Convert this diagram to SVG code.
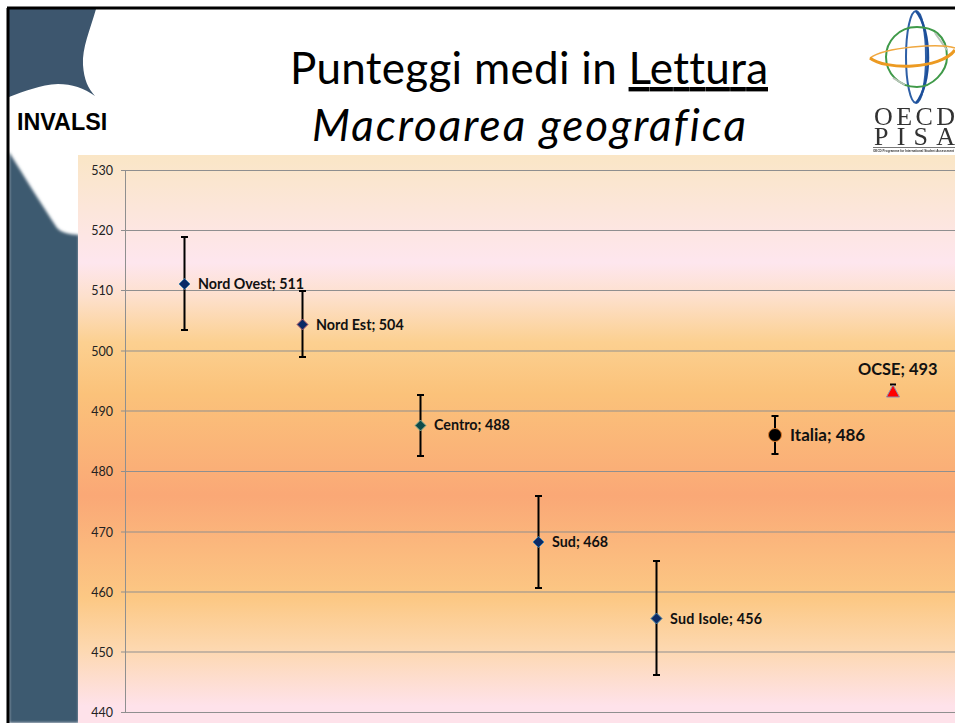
<svg xmlns="http://www.w3.org/2000/svg" width="955" height="723" viewBox="0 0 955 723">
<style>
.t{font-family:Lato,"Open Sans",sans-serif;fill:#000;font-variant-ligatures:none}
.ax{font-family:Lato,"Open Sans",sans-serif;font-size:12.5px;fill:#222;text-anchor:end}
.lb{font-family:Lato,"Open Sans",sans-serif;font-size:14.300px;font-weight:700;fill:#111}
.lg{font-family:Lato,"Open Sans",sans-serif;font-size:17px;font-weight:700;fill:#111}
.g{stroke:#8f8f8f;stroke-width:1;fill:none}
.e{stroke:#000;stroke-width:2;fill:none}
.d{fill:#0b2a66;stroke:#3f7fa8;stroke-width:1}
.s{font-family:"Liberation Serif",serif;font-size:26px;fill:#333}
</style>
<defs>
<linearGradient id="bg" x1="0" y1="155" x2="0" y2="723" gradientUnits="userSpaceOnUse">
<stop offset="0" stop-color="#fae6c6"/><stop offset="0.19" stop-color="#fee6ee"/><stop offset="0.25" stop-color="#fde0cc"/><stop offset="0.33" stop-color="#fcd090"/><stop offset="0.42" stop-color="#fbc27a"/><stop offset="0.6" stop-color="#faa876"/><stop offset="0.78" stop-color="#fcc884"/><stop offset="0.87" stop-color="#fdd8b0"/><stop offset="0.97" stop-color="#fee2ea"/><stop offset="1" stop-color="#fee2ea"/>
</linearGradient>
<filter id="b1" x="-10%" y="-10%" width="120%" height="120%"><feGaussianBlur stdDeviation="1.500"/></filter>
<filter id="b2" x="-10%" y="-10%" width="120%" height="120%"><feGaussianBlur stdDeviation="0.500"/></filter>
</defs>
<rect width="955" height="723" fill="#fff"/>
<g id="decor">
<path d="M9 9H96C90 30 82 48 83 65C84 80 88 88 95 96C84 88 72 84 58 84C40 85 25 91 9 97Z" fill="#3d566e"/>
<path d="M9 152C25 178 42 205 57 228Q62 234 79 235V723H9Z" fill="#3e5a70" filter="url(#b1)"/>
<path d="M7 8H955M8 8V723" fill="none" stroke="#000" stroke-width="3"/>
</g>
<g id="logo" fill="none" filter="url(#b2)">
<ellipse cx="916" cy="57" rx="10" ry="46" stroke="#2d5fa6" stroke-width="2"/>
<path d="M916 11C932 30 932 85 916 103" stroke="#1f4f9a" stroke-width="2.500"/>
<path d="M947 57C947 34 932 27 917 27C898 27 886 42 886 57" stroke="#3f9a49" stroke-width="2"/>
<path d="M886 57C886 72 898 87 917 87C932 87 947 72 947 57" stroke="#3f9a49" stroke-width="2"/>
<path d="M935 33L947 50M893 78L905 85" stroke="#b8c4b8" stroke-width="2"/>
<path d="M870 58C885 47 940 43 955 48" stroke="#f0a840" stroke-width="1.500"/>
<path d="M870 58C885 70 940 70 955 50" stroke="#ec9a20" stroke-width="3"/>
<text class="s" x="874" y="125" textLength="81">OECD</text>
<text class="s" x="874" y="145" textLength="81">PISA</text>
<path d="M873 147.500H955" stroke="#777"/>
<text x="873" y="152" font-family="Liberation Sans,sans-serif" font-size="3.400" font-weight="700" fill="#333" textLength="81" lengthAdjust="spacingAndGlyphs">OECD Programme for International Student Assessment</text>
</g>
<rect x="78" y="155" width="877" height="568" fill="url(#bg)"/>
<g id="title">
<text class="t" x="529" y="84" font-size="44" text-anchor="middle" textLength="478">Punteggi medi in <tspan text-decoration="underline">Lettura</tspan></text>
<text class="t" x="529" y="141" font-size="44" font-style="italic" text-anchor="middle" textLength="434">Macroarea geografica</text>
<text x="17" y="130" font-family="Liberation Sans,sans-serif" font-size="23.300" font-weight="700" fill="#000">INVALSI</text>
</g>
<g id="axis">
<path class="g" d="M125.500 170.500V712.500M121 170.500H955M121 230.500H955M121 290.500H955M121 351H955M121 411H955M121 471.500H955M121 532H955M121 592H955M121 652H955M121 712.500H955"/>
<text class="ax" x="113" y="175">530</text><text class="ax" x="113" y="235">520</text><text class="ax" x="113" y="295">510</text><text class="ax" x="113" y="356">500</text><text class="ax" x="113" y="416">490</text><text class="ax" x="113" y="476">480</text><text class="ax" x="113" y="537">470</text><text class="ax" x="113" y="597">460</text><text class="ax" x="113" y="657">450</text><text class="ax" x="113" y="717">440</text>
</g>
<g id="connectors">
<path class="e" d="M184.500 237V330M181 237H188M181 330H188"/>
<path class="e" d="M302.500 291V357M299 291H306M299 357H306"/>
<path class="e" d="M420.500 395V456M417 395H424M417 456H424"/>
<path class="e" d="M538.500 496V588M535 496H542M535 588H542"/>
<path class="e" d="M656.500 561V675M653 561H660M653 675H660"/>
<path class="e" d="M775 416V454M771.500 416H778.500M771.500 454H778.500"/>
<path class="e" d="M893 384.500V387M890 384.500H896"/>
</g>
<g id="nord-ovest"><path class="d" d="M184.500 278.500L190 284L184.500 289.500L179 284Z"/><text class="lb" x="198" y="288.500">Nord Ovest; 511</text></g>
<g id="nord-est"><path class="d" style="stroke:#b05a6a" d="M302.500 319L308 324.500L302.500 330L297 324.500Z"/><text class="lb" x="316" y="329.500">Nord Est; 504</text></g>
<g id="centro"><path class="d" style="fill:#0d4a4a;stroke:#8fb090" d="M420.500 420L426 425.500L420.500 431L415 425.500Z"/><text class="lb" x="434" y="430">Centro; 488</text></g>
<g id="sud"><path class="d" d="M538.500 536.500L544 542L538.500 547.500L533 542Z"/><text class="lb" x="552" y="547">Sud; 468</text></g>
<g id="sud-isole"><path class="d" d="M656.500 613L662 618.500L656.500 624L651 618.500Z"/><text class="lb" x="670" y="624" textLength="92">Sud Isole; 456</text></g>
<g id="italia"><circle cx="775" cy="435" r="6.500" fill="#000" stroke="#d9792a"/><text class="lg" x="790" y="441">Italia; 486</text></g>
<g id="ocse"><path d="M893 385L899.500 397H886.500Z" fill="#f00" stroke="#8a8fb0"/><text class="lg" style="font-size:16.400px" x="858" y="375">OCSE; 493</text></g>
</svg>
